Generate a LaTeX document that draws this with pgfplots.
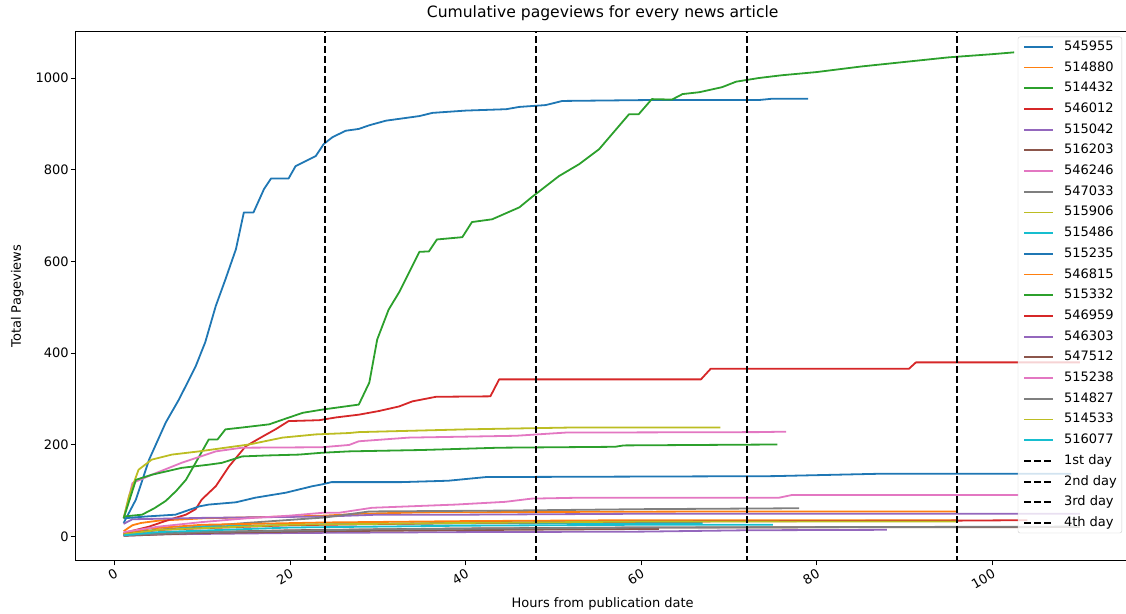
\documentclass[border=0pt]{standalone}
\usepackage{fontspec}
\setmainfont{DejaVu Sans}
\usepackage{pgfplots}
\pgfplotsset{compat=1.18}

% tab10 cycle
\definecolor{C0}{HTML}{1F77B4}
\definecolor{C1}{HTML}{FF7F0E}
\definecolor{C2}{HTML}{2CA02C}
\definecolor{C3}{HTML}{D62728}
\definecolor{C4}{HTML}{9467BD}
\definecolor{C5}{HTML}{8C564B}
\definecolor{C6}{HTML}{E377C2}
\definecolor{C7}{HTML}{7F7F7F}
\definecolor{C8}{HTML}{BCBD22}
\definecolor{C9}{HTML}{17BECF}

\newcommand{\lbl}{\fontsize{13}{15.6}\selectfont}

\begin{document}
\begin{tikzpicture}
\begin{axis}[
  scale only axis,
  width=1054.6pt, height=529.3pt,
  xmin=-4.5, xmax=115.7,
  ymin=-53, ymax=1101,
  xtick={0,20,40,60,80,100},
  ytick={0,200,400,600,800,1000},
  tick align=outside,
  major tick length=4.5pt,
  xtick pos=lower, ytick pos=left,
  every tick/.style={black, line width=1pt},
  axis line style={black, line width=1pt},
  /pgf/number format/assume math mode=true,
  /pgf/number format/1000 sep={},
  tick label style={font=\lbl},
  xticklabel style={rotate=30, anchor=north east, inner sep=2pt},
  yticklabel style={inner sep=2pt},
  title={Cumulative pageviews for every news article},
  title style={font=\fontsize{15.6}{18}\selectfont, at={(axis description cs:0.5,1)}, anchor=center, yshift=12pt},
  xlabel={Hours from publication date},
  xlabel style={font=\lbl, at={(axis description cs:0.5,0)}, anchor=center, yshift=-43pt},
  ylabel={Total Pageviews},
  ylabel style={font=\lbl, at={([xshift=-58pt]axis description cs:0,0.5)}, anchor=center},
  every axis plot/.append style={line width=1.8pt, line join=round},
  legend image code/.code={\draw[#1] (0pt,0pt) -- (29pt,0pt);},
  legend cell align=left,
  legend style={
    at={(axis description cs:1,1)}, anchor=north east,
    xshift=-8pt, yshift=-5pt,
    font=\lbl,
    draw=black!20, fill=white, fill opacity=0.8, text opacity=1,
    rounded corners=2pt,
    inner xsep=5pt, inner ysep=3.5pt,
    row sep=7.7pt, column sep=10pt,
    nodes={inner sep=0pt, text height=10pt, text depth=3pt},
  },
]
% 545955
\addplot[C0] coordinates {(1,30) (2.4,81) (3.9,168) (5.8,249) (7.3,299) (9.2,371) (10.3,424) (11.5,503) (12.6,561) (13.8,627) (14.7,707) (15.8,707) (17.0,758) (17.8,781) (19.8,781) (20.6,808) (22.9,830) (23.8,856) (24.8,871) (26.3,885) (27.8,889) (29.0,897) (30.9,907) (34.7,917) (36.2,924) (40,929) (44.6,932) (46.1,937) (49.1,941) (51,950) (60.9,952) (73.4,952) (75,955) (79,955)};
\addlegendentry{545955}
% 514880
\addplot[C1] coordinates {(1,12) (2,25) (3,30) (5,35) (10,40) (20,44) (24,46) (28,50) (35,53) (50,54) (70,55) (96,55)};
\addlegendentry{514880}
% 514432
\addplot[C2] coordinates {(1,44) (3.1,48) (4.5,62) (5.8,78) (7,100) (8.1,124) (9.2,161) (10.7,212) (11.7,212) (12.6,234) (14.5,238) (17.6,245) (19.1,255) (21.4,270) (23.6,277) (27.8,288) (29,336) (29.9,430) (31.2,495) (32.4,533) (34.7,621) (35.8,622) (36.7,648) (39.6,653) (40.7,686) (43,692) (46.1,718) (47.5,740) (50.6,786) (52.9,812) (55.2,845) (58.6,921) (59.7,921) (61.2,954) (63.5,953) (64.7,965) (66.6,969) (69.2,980) (70.8,992) (73.4,1000) (76,1006) (80,1013) (85,1025) (90,1035) (95,1045) (100,1052) (102.5,1056)};
\addlegendentry{514432}
% 546012
\addplot[C3] coordinates {(1,8) (3.9,22) (6.2,37) (8.1,48) (9.2,60) (9.9,81) (11.5,110) (13,153) (14.9,197) (16.8,218) (18.3,234) (19.8,252) (23.3,254) (25.2,260) (27.8,266) (30.1,274) (32.4,284) (33.9,295) (36.6,305) (42.8,306) (43.8,343) (66.8,343) (67.9,366) (90.5,366) (91.3,380) (110,380)};
\addlegendentry{546012}
% 515042
\addplot[C4] coordinates {(1,28) (2,38) (10,41) (24,44) (30,48) (40,48) (60,50) (110,50)};
\addlegendentry{515042}
% 516203
\addplot[C5] coordinates {(1,3) (5,8) (20,14) (40,18) (60,20) (110,21)};
\addlegendentry{516203}
% 546246
\addplot[C6] coordinates {(1,40) (2,117) (4.2,135) (7.6,161) (11.5,186) (14.5,194) (23.6,195) (26.7,200) (27.8,208) (33.5,216) (45.7,220) (51.4,227) (73.4,228) (76.5,229)};
\addlegendentry{546246}
% 547033
\addplot[C7] coordinates {(1,5) (5,15) (15,30) (24,42) (29,55) (45,57) (60,60) (78,62)};
\addlegendentry{547033}
% 515906
\addplot[C8] coordinates {(1,40) (1.6,88) (2.7,146) (4.2,168) (6.5,179) (9.6,186) (12.6,194) (15.3,201) (19.1,216) (22.9,223) (26.7,226) (27.8,228) (40,234) (52,238) (69,238)};
\addlegendentry{515906}
% 515486
\addplot[C9] coordinates {(1,4) (3,12) (10,22) (24,27) (40,29) (55,30) (67,30)};
\addlegendentry{515486}
% 515235
\addplot[C0] coordinates {(1,40) (3.5,44) (6.9,48) (9.6,66) (10.7,70) (13.8,75) (16,85) (19.5,96) (22.5,110) (23.6,114) (24.7,119) (32.7,119) (38,122) (42.3,130) (75,132) (86.7,137) (109,137)};
\addlegendentry{515235}
% 546815
\addplot[C1] coordinates {(1,6) (4,18) (10,26) (24,31) (40,34) (60,36) (96,36)};
\addlegendentry{546815}
% 515332
\addplot[C2] coordinates {(1,40) (2.4,124) (4.2,135) (7.6,150) (10.7,157) (12.2,161) (14.5,175) (17.2,177) (21,179) (23.6,183) (26.7,186) (35,189) (43.8,194) (57,196) (58,199) (75.5,201)};
\addlegendentry{515332}
% 546959
\addplot[C3] coordinates {(1,5) (5,15) (20,25) (40,30) (60,33) (96,35) (104,36)};
\addlegendentry{546959}
% 546303
\addplot[C4] coordinates {(1,2) (5,5) (20,8) (40,10) (60,11) (72,14) (88,15)};
\addlegendentry{546303}
% 547512
\addplot[C5] coordinates {(1,2) (10,8) (24,12) (45,15) (62,17)};
\addlegendentry{547512}
% 515238
\addplot[C6] coordinates {(1,10) (5,22) (10,32) (15,40) (20,46) (23.6,52) (25.5,52) (29.3,63) (38.8,70) (44.5,76) (47.5,83) (53,85) (75.7,85) (77.2,91) (103,91)};
\addlegendentry{515238}
% 514827
\addplot[C7] coordinates {(1,3) (10,10) (30,16) (60,20) (110,22)};
\addlegendentry{514827}
% 514533
\addplot[C8] coordinates {(1,5) (5,15) (20,26) (40,30) (60,33) (96,33)};
\addlegendentry{514533}
% 516077
\addplot[C9] coordinates {(1,3) (5,10) (20,20) (40,24) (60,26) (75,26)};
\addlegendentry{516077}
% day boundaries
\addplot[black, line width=2pt, dash pattern=on 7pt off 3pt] coordinates {(24,-100) (24,1200)};
\addlegendentry{1st day}
\addplot[black, line width=2pt, dash pattern=on 7pt off 3pt] coordinates {(48,-100) (48,1200)};
\addlegendentry{2nd day}
\addplot[black, line width=2pt, dash pattern=on 7pt off 3pt] coordinates {(72,-100) (72,1200)};
\addlegendentry{3rd day}
\addplot[black, line width=2pt, dash pattern=on 7pt off 3pt] coordinates {(96,-100) (96,1200)};
\addlegendentry{4th day}
\end{axis}
\pgfresetboundingbox
\path[use as bounding box] ([xshift=-75.4pt,yshift=-53pt]current axis.south west) rectangle ([xshift=1050.6pt,yshift=31.7pt]current axis.north west);
\end{tikzpicture}
\end{document}
